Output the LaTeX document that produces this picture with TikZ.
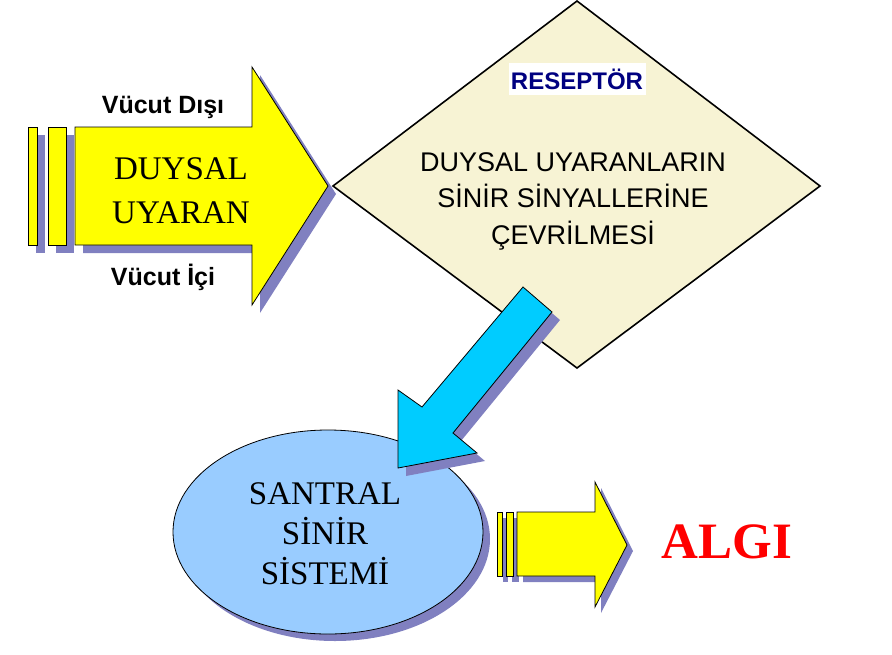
\documentclass[tikz,border=0pt]{standalone}
\usepackage{fontspec}
\setmainfont{Liberation Serif}
\newfontfamily\arialfont{Liberation Sans}
\definecolor{shadowc}{RGB}{128,128,192}
\definecolor{yelc}{RGB}{255,255,0}
\definecolor{beige}{RGB}{247,243,212}
\definecolor{cyanarrow}{RGB}{0,204,255}
\definecolor{ellblue}{RGB}{153,204,255}
\definecolor{navyc}{RGB}{0,0,128}
\definecolor{algired}{RGB}{255,0,0}
\newcommand\bigarrowshape[1]{%
  \path[#1] (28,127) rectangle (37,245);
  \path[#1] (48,127) rectangle (66,245);
  \path[#1] (75,127) -- (252,127) -- (252,67) -- (328,186) -- (252,305) -- (252,245) -- (75,245) -- cycle;}
\newcommand\smallarrowshape[1]{%
  \path[#1] (497,512) rectangle (502,576);
  \path[#1] (506,512) rectangle (513,576);
  \path[#1] (517,512) -- (595,512) -- (595,482) -- (627,545) -- (595,607) -- (595,576) -- (517,576) -- cycle;}
\newcommand\bluearrowshape[1]{%
  \path[#1] (523,287) -- (552,312) -- (453,433) -- (477,453) -- (398,468) -- (398,390) -- (422,407) -- cycle;}
\tikzset{
  shadowfill/.style={fill=shadowc,draw=none},
  yelbox/.style={fill=yelc,draw=black,line width=0.8pt,line join=miter},
  bluebox/.style={fill=cyanarrow,draw=black,line width=0.8pt},
  arialbold/.style={font=\arialfont\bfseries\fontsize{25}{30}\selectfont},
  serifbig/.style={font=\fontsize{33}{44}\selectfont,align=center},
}
\begin{document}
\begin{tikzpicture}[x=1pt,y=-1pt]
\useasboundingbox (0,0) rectangle (892,654);
\fill[white] (0,0) rectangle (892,654);
% big yellow arrow
\bigarrowshape{shadowfill,shift={(8,8)}}
\bigarrowshape{yelbox}
\node[serifbig] (duysal) at (181,191) {DUYSAL\\UYARAN};
\node[arialbold] (disi) at (163,107) {Vücut Dışı};
\node[arialbold] (ici) at (163,277) {Vücut İçi};
% diamond
\path[fill=beige,draw=black,line width=1.6pt,line join=miter] (333,186) -- (577,1) -- (820,186) -- (577,368) -- cycle;
\node[fill=white,minimum width=137pt,minimum height=32pt,inner sep=0pt,text=navyc,font=\arialfont\bfseries\fontsize{24}{28}\selectfont] (resep) at (577,79) {RESEPTÖR};
\node[align=center,font=\arialfont\fontsize{27}{36.5}\selectfont] (donusum) at (573,201) {DUYSAL UYARANLARIN\\SİNİR SİNYALLERİNE\\ÇEVRİLMESİ};
% ellipse
\fill[shadowc] (335,539) ellipse [x radius=155pt, y radius=102pt];
\draw[fill=ellblue,line width=0.8pt] (328,532) ellipse [x radius=155pt, y radius=102pt];
\node[align=center,font=\fontsize{33}{40}\selectfont] (santral) at (325,534) {SANTRAL\\SİNİR\\SİSTEMİ};
% blue arrow
\bluearrowshape{shadowfill,shift={(8,8)}}
\bluearrowshape{bluebox}
% small yellow arrow
\smallarrowshape{shadowfill,shift={(6,6)}}
\smallarrowshape{yelbox}
% ALGI
\node[text=algired,font=\bfseries\fontsize{51}{56}\selectfont] (algi) at (727,542) {ALGI};
\end{tikzpicture}
\end{document}
